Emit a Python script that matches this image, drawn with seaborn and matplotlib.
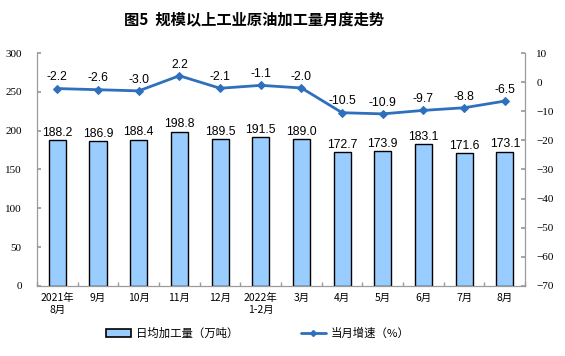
import numpy as np
import pandas as pd
import matplotlib
matplotlib.use("Agg")
import matplotlib.pyplot as plt
import seaborn as sns
from matplotlib.lines import Line2D
from matplotlib.patches import Patch

categories = ["2021年\n8月", "9月", "10月", "11月", "12月", "2022年\n1-2月",
              "3月", "4月", "5月", "6月", "7月", "8月"]
daily_output = [188.2, 186.9, 188.4, 198.8, 189.5, 191.5, 189.0, 172.7, 173.9, 183.1, 171.6, 173.1]
growth = [-2.2, -2.6, -3.0, 2.2, -2.1, -1.1, -2.0, -10.5, -10.9, -9.7, -8.8, -6.5]

title = "图5  规模以上工业原油加工量月度走势"
bar_label = "日均加工量（万吨）"
line_label = "当月增速（%）"

sns.set_theme(style="white")
plt.rcParams["font.family"] = ["Noto Sans CJK SC", "DejaVu Sans"]
plt.rcParams["text.color"] = "black"

df = pd.DataFrame({"cat": categories, "val": daily_output, "g": growth,
                   "pos": np.arange(len(categories))})

fig = plt.figure(figsize=(5.65, 3.56), dpi=100)
ax = fig.add_axes([0.0655, 0.197, 0.864, 0.654])

bar_color = "#99CCFF"
line_color = "#2E70BE"
spine_color = "#9a9a9a"

sns.barplot(data=df, x="cat", y="val", ax=ax, color=bar_color, width=0.42,
            edgecolor="black", linewidth=1.0, saturation=1)
for p in ax.patches:
    p.set_facecolor(bar_color)
ax.set_xlim(-0.5, len(categories) - 0.5)
ax.set_ylim(0, 300)
ax.set_yticks(np.arange(0, 301, 50))
ax.set_xlabel("")
ax.set_ylabel("")

for i, v in enumerate(daily_output):
    ax.text(i, v + 1.5, f"{v:.1f}", ha="center", va="bottom", fontsize=8.8,
            family="Liberation Sans", color="black")

ax2 = ax.twinx()
sns.lineplot(data=df, x="pos", y="g", ax=ax2, color=line_color, linewidth=2,
             marker="D", markersize=4, markeredgecolor=line_color)
ax2.set_ylim(-70, 10)
ax2.set_yticks(np.arange(-70, 11, 10))
ax2.set_xlim(-0.5, len(categories) - 0.5)
ax2.set_xlabel("")
ax2.set_ylabel("")
for i, v in enumerate(growth):
    ax2.text(i, v + 1.8, f"{v:.1f}", ha="center", va="bottom", fontsize=8.8,
             family="Liberation Sans", color="black")

for a in (ax, ax2):
    a.spines["top"].set_visible(False)
    for s in ("left", "right", "bottom"):
        a.spines[s].set_color(spine_color)
        a.spines[s].set_linewidth(0.8)

ax.tick_params(axis="y", direction="in", length=3, color=spine_color, labelsize=8,
               pad=11, left=True, labelcolor="black")
for lbl in ax.get_yticklabels():
    lbl.set_family("Liberation Serif")
ax2.tick_params(axis="y", direction="in", length=3, color=spine_color, labelsize=8,
                pad=8, right=True, labelcolor="black")
for lbl in ax2.get_yticklabels():
    lbl.set_family("Liberation Serif")

ax.set_xticks(np.arange(len(categories)))
ax.set_xticklabels(categories, fontsize=7.5, linespacing=1.3)
ax.set_xticks(np.arange(-0.5, len(categories), 1), minor=True)
ax.tick_params(axis="x", which="major", length=0, pad=5, labelcolor="black")
ax.tick_params(axis="x", which="minor", direction="in", length=3, color=spine_color, bottom=True)

fig.suptitle(title, x=0.45, y=0.965, fontsize=11, fontweight="bold")

handles = [Patch(facecolor=bar_color, edgecolor="black", linewidth=1.2),
           Line2D([0], [0], color=line_color, linewidth=2, marker="D", markersize=3)]
fig.legend(handles, [bar_label, line_label], loc="center", bbox_to_anchor=(0.456, 0.065),
           ncol=2, frameon=False, fontsize=8.2, columnspacing=5.5, handlelength=2.2,
           handletextpad=0.4)

fig.savefig("out.png", dpi=100)
